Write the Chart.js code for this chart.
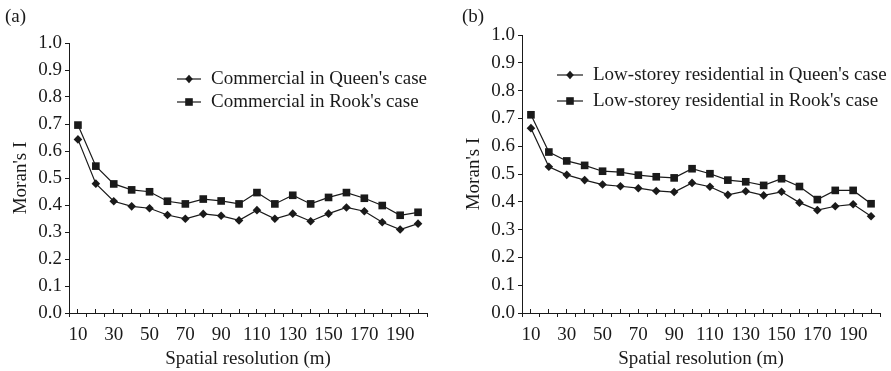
<!DOCTYPE html>
<html>
<head>
<meta charset="utf-8">
<script src="https://cdn.jsdelivr.net/npm/chart.js@4/dist/chart.umd.min.js"></script>
<style>
  body { margin: 0; background: #fff; width: 891px; height: 371px; overflow: hidden; position: relative; }
  .panel { position: absolute; top: 0; height: 371px; }
  #panelA { left: 0; width: 445px; }
  #panelB { left: 453px; width: 438px; }
</style>
</head>
<body>
<div class="panel" id="panelA"><canvas id="chartA"></canvas></div>
<div class="panel" id="panelB"><canvas id="chartB"></canvas></div>
<script>
// spatial resolution (m)
const resolutions = [10, 20, 30, 40, 50, 60, 70, 80, 90, 100, 110, 120, 130, 140, 150, 160, 170, 180, 190, 200];
const xTickLabels = [10, 30, 50, 70, 90, 110, 130, 150, 170, 190];

// Moran's I values
const commercialQueen = [0.643, 0.479, 0.414, 0.395, 0.388, 0.363, 0.349, 0.367, 0.360, 0.343, 0.381, 0.349, 0.368, 0.340, 0.368, 0.391, 0.377, 0.336, 0.309, 0.331];
const commercialRook = [0.696, 0.544, 0.478, 0.456, 0.449, 0.414, 0.404, 0.422, 0.415, 0.404, 0.446, 0.404, 0.436, 0.404, 0.428, 0.446, 0.425, 0.398, 0.362, 0.373];
const residentialQueen = [0.665, 0.526, 0.497, 0.478, 0.462, 0.456, 0.449, 0.439, 0.435, 0.468, 0.454, 0.425, 0.438, 0.423, 0.436, 0.397, 0.370, 0.384, 0.391, 0.348];
const residentialRook = [0.713, 0.579, 0.547, 0.531, 0.510, 0.507, 0.496, 0.490, 0.486, 0.519, 0.501, 0.478, 0.472, 0.459, 0.483, 0.455, 0.408, 0.441, 0.441, 0.393];

const ink = '#1a1a1a';
const serif = 'Liberation Serif';

Chart.defaults.font.family = serif;
Chart.defaults.color = ink;

function toPoints(values) {
    return resolutions.map((r, i) => ({ x: r, y: values[i] }));
}

function drawMarker(ctx, style, x, y) {
    ctx.beginPath();
    if (style === 'rectRot') {
        ctx.moveTo(x, y - 4.2);
        ctx.lineTo(x + 3.8, y);
        ctx.lineTo(x, y + 4.2);
        ctx.lineTo(x - 3.8, y);
    } else {
        ctx.rect(x - 3.8, y - 3.8, 7.6, 7.6);
    }
    ctx.closePath();
    ctx.fill();
}

// legend + panel letter drawn at fixed spots
const insetLegend = {
    id: 'insetLegend',
    afterDraw(chart, args, opts) {
        const ctx = chart.ctx;
        ctx.save();
        ctx.fillStyle = ink;
        ctx.strokeStyle = ink;
        ctx.font = '19px "' + serif + '"';
        ctx.textBaseline = 'middle';
        ctx.textAlign = 'left';
        ctx.fillText(opts.letter, opts.letterX, opts.letterY);
        chart.data.datasets.forEach((ds, i) => {
            const y = opts.rows[i];
            ctx.lineWidth = 1.2;
            ctx.beginPath();
            ctx.moveTo(opts.x1, y);
            ctx.lineTo(opts.x2, y);
            ctx.stroke();
            drawMarker(ctx, ds.pointStyle, (opts.x1 + opts.x2) / 2, y);
            ctx.fillText(ds.label, opts.textX, y);
        });
        ctx.restore();
    }
};

function makeChart(canvasId, names, queen, rook, top, right, legendOpts) {
    const ctx = document.getElementById(canvasId).getContext('2d');
    return new Chart(ctx, {
        type: 'line',
        data: {
            datasets: [{
                label: names[0],
                data: toPoints(queen),
                borderColor: ink,
                backgroundColor: ink,
                borderWidth: 1.2,
                pointStyle: 'rectRot',
                pointRadius: 4.3,
                pointBorderWidth: 0,
                tension: 0
            }, {
                label: names[1],
                data: toPoints(rook),
                borderColor: ink,
                backgroundColor: ink,
                borderWidth: 1.2,
                pointStyle: 'rect',
                pointRadius: 5.4,
                pointBorderWidth: 0,
                tension: 0
            }]
        },
        options: {
            responsive: true,
            maintainAspectRatio: false,
            animation: false,
            layout: { padding: { top: top, right: right, left: 0, bottom: 0 } },
            plugins: {
                legend: { display: false },
                tooltip: { enabled: false },
                insetLegend: legendOpts
            },
            scales: {
                x: {
                    type: 'linear',
                    min: 5,
                    max: 205,
                    weight: 1,
                    afterBuildTicks: (s) => { s.ticks = resolutions.map(v => ({ value: v })); },
                    afterFit: (s) => { s.height = 58; },
                    grid: { drawOnChartArea: false, tickLength: -4, color: ink, tickWidth: 1 },
                    border: { display: true, color: ink, width: 1 },
                    ticks: {
                        autoSkip: false,
                        maxRotation: 0,
                        padding: 15,
                        font: { size: 19 },
                        color: ink,
                        callback: (v) => xTickLabels.includes(v) ? String(v) : ''
                    },
                    title: {
                        display: true,
                        text: 'Spatial resolution (m)',
                        font: { size: 19 },
                        color: ink,
                        padding: { top: 0, bottom: 1 }
                    }
                },
                x2: {
                    type: 'linear',
                    position: 'bottom',
                    min: 5,
                    max: 205,
                    weight: 0,
                    afterBuildTicks: (s) => { s.ticks = resolutions.map(v => ({ value: v - 5 })).concat([{ value: 205 }]); },
                    afterFit: (s) => { s.height = 0; },
                    grid: { drawOnChartArea: false, tickLength: 4, color: ink, tickWidth: 1 },
                    border: { display: false },
                    ticks: { display: false }
                },
                y: {
                    min: 0,
                    max: 1,
                    afterFit: (s) => { s.width = 69; },
                    grid: { drawOnChartArea: false, tickLength: 4, color: ink, tickWidth: 1 },
                    border: { display: true, color: ink, width: 1 },
                    ticks: {
                        stepSize: 0.1,
                        padding: 3,
                        font: { size: 19 },
                        color: ink,
                        callback: (v) => v.toFixed(1)
                    },
                    title: {
                        display: true,
                        text: "Moran's I",
                        font: { size: 19 },
                        color: ink,
                        padding: { top: 10, bottom: 0 }
                    }
                }
            }
        },
        plugins: [insetLegend]
    });
}

makeChart('chartA',
    ["Commercial in Queen's case", "Commercial in Rook's case"],
    commercialQueen, commercialRook, 43, 18,
    { letter: '(a)', letterX: 5, letterY: 17, x1: 177, x2: 201, textX: 211, rows: [79, 102] });

makeChart('chartB',
    ["Low-storey residential in Queen's case", "Low-storey residential in Rook's case"],
    residentialQueen, residentialRook, 35, 11,
    { letter: '(b)', letterX: 9, letterY: 17, x1: 104, x2: 130, textX: 140, rows: [75, 101] });
</script>
</body>
</html>
